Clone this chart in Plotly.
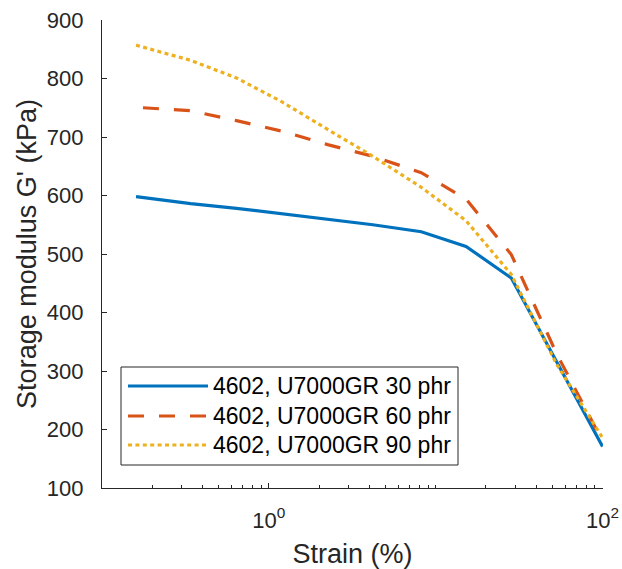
import plotly.graph_objects as go

# ---- data ----
strain = [0.16, 0.34, 0.64, 1.2, 2.25, 4.2, 8.2, 15.2, 28.4, 53, 100]
strain_60 = [0.176, 0.34, 0.64, 1.2, 2.25, 4.2, 8.2, 15.2, 28.4, 53, 100]
g_30 = [598, 586, 578, 569, 560, 550, 538, 513, 459, 316, 171]
g_60 = [750, 745, 728, 710, 687, 667, 639, 594, 499, 330, 180]
g_90 = [857, 831, 801, 760, 713, 667, 614, 557, 465, 312, 186]
names = ["4602, U7000GR 30 phr", "4602, U7000GR 60 phr", "4602, U7000GR 90 phr"]

x_major = [1, 100]
x_major_text = ["10<sup>0</sup>", "10<sup>2</sup>"]
y_ticks = [100, 200, 300, 400, 500, 600, 700, 800, 900]

colors = ["#0072BD", "#D95319", "#EDB120"]
dashes = ["solid", "16px,15px", "4px,3.4px"]
FONT = "Liberation Sans, Arial, sans-serif"
AX = "#262626"

W, H = 622, 569
ML, MR, MT, MB = 102, 19, 20, 81
PW, PH = W - ML - MR, H - MT - MB


def px(x):  # pixel -> paper x
    return (x - ML) / PW


def py(y):  # pixel -> paper y
    return (H - MB - y) / PH


fig = go.Figure()
for xs, ys, name, c, d in zip([strain, strain_60, strain], [g_30, g_60, g_90], names, colors, dashes):
    fig.add_trace(go.Scatter(x=xs, y=ys, mode="lines", name=name, showlegend=False,
                             line=dict(color=c, width=3.2, dash=d)))

# ---- legend drawn as a box with line samples and labels ----
shapes = [dict(type="rect", xref="paper", yref="paper",
               x0=px(121), x1=px(458), y0=py(465), y1=py(367),
               line=dict(color=AX, width=1), fillcolor="white", layer="above")]
annotations = []
rows = [386, 416, 445]
for name, c, d, ry in zip(names, colors, dashes, rows):
    shapes.append(dict(type="line", xref="paper", yref="paper",
                       x0=px(128), x1=px(208), y0=py(ry), y1=py(ry),
                       line=dict(color=c, width=3.2, dash=d), layer="above"))
    annotations.append(dict(xref="paper", yref="paper", x=px(211), y=py(ry),
                            text=name, showarrow=False, xanchor="left", yanchor="middle",
                            font=dict(family=FONT, size=23, color="black")))

minor_vals = [m * 10 ** e for e in (-1, 0, 1) for m in range(2, 10)] + [10]

fig.update_layout(
    width=W, height=H,
    margin=dict(l=ML, r=MR, t=MT, b=MB),
    paper_bgcolor="white", plot_bgcolor="white",
    font=dict(family=FONT, size=22, color=AX),
    showlegend=False,
    shapes=shapes, annotations=annotations,
    xaxis=dict(type="log", range=[-1, 2.003], showgrid=False, zeroline=False,
               automargin=False,
               showline=True, linecolor=AX, linewidth=1.3, mirror=False,
               tickmode="array", tickvals=x_major, ticktext=x_major_text,
               ticks="inside", ticklen=5, tickwidth=1.3, tickcolor=AX,
               ticklabelstandoff=12,
               tickfont=dict(size=22, color=AX),
               minor=dict(tickmode="array", tickvals=minor_vals, ticks="inside",
                          ticklen=3, tickwidth=1.2, tickcolor=AX, showgrid=False),
               title=dict(text="Strain (%)", font=dict(size=27, color=AX), standoff=12)),
    yaxis=dict(range=[100, 900], showgrid=False, zeroline=False,
               automargin=False,
               showline=True, linecolor=AX, linewidth=1.3, mirror=False,
               tickmode="array", tickvals=y_ticks,
               ticks="inside", ticklen=5, tickwidth=1.3, tickcolor=AX,
               ticklabelstandoff=13,
               tickfont=dict(size=22, color=AX),
               title=dict(text="Storage modulus G' (kPa)", font=dict(size=27, color=AX), standoff=2)),
)

fig.write_html("out.html")
